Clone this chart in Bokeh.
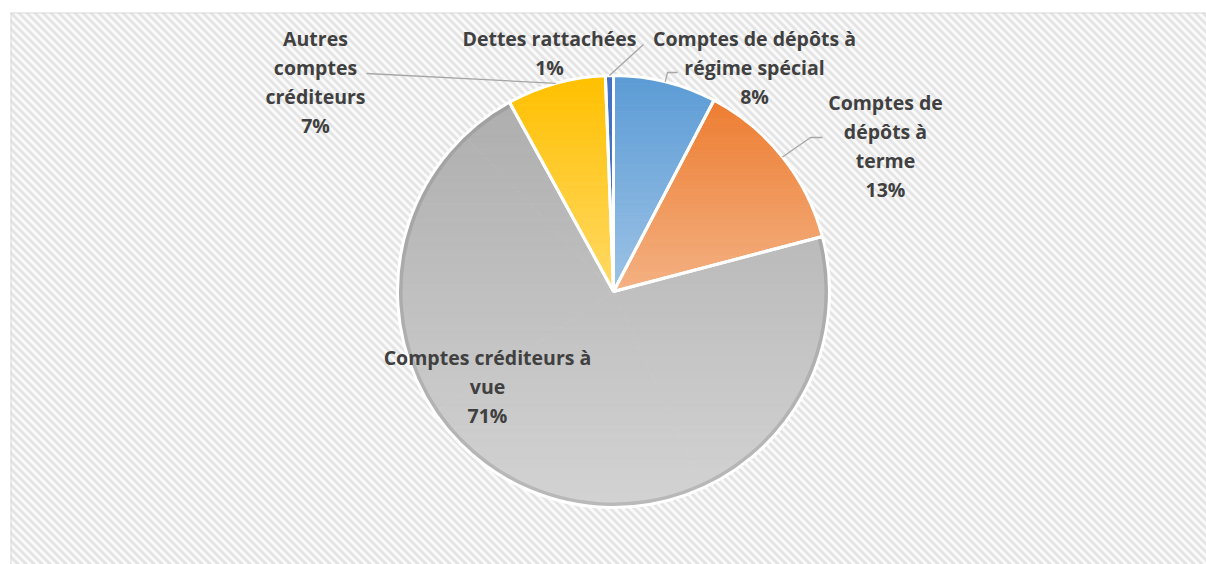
import math
from bokeh.plotting import figure
from bokeh.models import Range1d, ColumnDataSource, Span
from bokeh.core.properties import value
from bokeh.embed import file_html
from bokeh.resources import INLINE

# ---------------- data ----------------
categories = [
    "Comptes de dépôts à régime spécial",
    "Comptes de dépôts à terme",
    "Comptes créditeurs à vue",
    "Autres comptes créditeurs",
    "Dettes rattachées",
]
shares = [7.7, 13.2, 71.1, 7.4, 0.6]
label_lines = [
    ["Comptes de dépôts à", "régime spécial"],
    ["Comptes de", "dépôts à", "terme"],
    ["Comptes créditeurs à", "vue"],
    ["Autres", "comptes", "créditeurs"],
    ["Dettes rattachées"],
]
top_colors = ["#5b9bd5", "#ed7d31", "#aeaeae", "#ffc000", "#4472c4"]
bottom_colors = ["#9dc3e6", "#f4b183", "#d3d3d3", "#ffd966", "#4472c4"]

# ---------------- layout ----------------
W, H = 1196, 552          # frame size in px (data units == px)
CX, CY, R = 603, 273, 216  # pie centre / radius
label_pos = [(744, 526), (875, 462), (477, 207), (305, 526), (539, 526)]
LINE_STEP = 29
leader_pts = [
    [(657, 492), (667, 492)],
    [(800, 427), (812, 427)],
    None,
    [(356, 491)],
    [(633, 520)],
]

p = figure(width=1206, height=564, output_backend="svg", toolbar_location=None,
           x_range=Range1d(0, W), y_range=Range1d(0, H),
           min_border_left=10, min_border_top=12, min_border_right=0, min_border_bottom=0)
p.axis.visible = False
p.grid.visible = False
p.outline_line_color = None
p.background_fill_color = "#fafafa"
p.border_fill_color = "white"

# diagonal stripe pattern of the chart area
STRIPE = 8
sx0, sx1 = [], []
k = -H
while k < W + STRIPE:
    sx0.append(k)
    sx1.append(k + H)
    k += STRIPE
p.segment(x0=sx0, y0=[H] * len(sx0), x1=sx1, y1=[0] * len(sx0),
          line_color="#e4e4e4", line_width=2.8)
p.add_layout(Span(location=0, dimension="height", line_color="#d9d9d9", line_width=2))
p.add_layout(Span(location=H, dimension="width", line_color="#d9d9d9", line_width=2))

total = sum(shares)
cum = [0.0]
for s in shares:
    cum.append(cum[-1] + s)
starts = [math.pi / 2 - 2 * math.pi * c / total for c in cum[:-1]]
ends = [math.pi / 2 - 2 * math.pi * c / total for c in cum[1:]]


def hex2rgb(h):
    h = h.lstrip("#")
    return [int(h[i:i + 2], 16) for i in (0, 2, 4)]


def lerp_col(a, b, t):
    ca, cb = hex2rgb(a), hex2rgb(b)
    return "#%02x%02x%02x" % tuple(int(round(ca[i] + (cb[i] - ca[i]) * t)) for i in range(3))


def clip_half(pts, keep, inter):
    out = []
    n = len(pts)
    for i in range(n):
        cur, prev = pts[i], pts[i - 1]
        if keep(cur):
            if not keep(prev):
                out.append(inter(prev, cur))
            out.append(cur)
        elif keep(prev):
            out.append(inter(prev, cur))
    return out


def ix(yc):
    return lambda a, b: (a[0] + (b[0] - a[0]) * (yc - a[1]) / (b[1] - a[1]), yc)


def clip_band(poly, y0, y1):
    pts = clip_half(poly, lambda q: q[1] >= y0, ix(y0))
    if pts:
        pts = clip_half(pts, lambda q: q[1] <= y1, ix(y1))
    return pts


# gradient-filled slices (horizontal bands, convex sub-wedges)
band_xs, band_ys, band_cols = [], [], []
for i in range(len(shares)):
    a0, a1 = starts[i], ends[i]
    n = max(4, int(abs(a1 - a0) / 0.01))
    arc = [(CX + R * math.cos(a0 + (a1 - a0) * k / n),
            CY + R * math.sin(a0 + (a1 - a0) * k / n)) for k in range(n + 1)]
    ymax = max([q[1] for q in arc] + [CY])
    ymin = min([q[1] for q in arc] + [CY])
    # split into convex pieces of at most ~80 degrees
    step = max(1, int(1.4 / 0.01))
    pieces = []
    j = 0
    while j < n:
        jj = min(n, j + step)
        pieces.append([(CX, CY)] + arc[j:jj + 1])
        j = jj
    nb = 60
    for b in range(nb):
        y1 = ymax - (ymax - ymin) * b / nb
        y0 = ymax - (ymax - ymin) * (b + 1) / nb
        col = lerp_col(top_colors[i], bottom_colors[i], (b + 0.5) / nb)
        for poly in pieces:
            pts = clip_band(poly, y0 - 0.25, y1 + 0.25)
            if len(pts) < 3:
                continue
            band_xs.append([q[0] for q in pts])
            band_ys.append([q[1] for q in pts])
            band_cols.append(col)
p.patches(xs=band_xs, ys=band_ys, fill_color=band_cols, line_color=band_cols, line_width=0.5)

# bevel rim on the large slice
p.annular_wedge(x=CX, y=CY, inner_radius=R - 5, outer_radius=R, start_angle=starts[2], end_angle=ends[2],
                direction="clock", fill_color="#7f7f7f", fill_alpha=0.3, line_color=None)

# white slice borders
src = ColumnDataSource(dict(start=starts, end=ends))
p.wedge(x=CX, y=CY, radius=R, start_angle="start", end_angle="end", direction="clock",
        fill_color=None, line_color="white", line_width=3, source=src)

# leader lines
for i, pts in enumerate(leader_pts):
    if not pts:
        continue
    mid = (starts[i] + ends[i]) / 2
    ax, ay = CX + R * math.cos(mid), CY + R * math.sin(mid)
    xs = [ax] + [q[0] for q in pts]
    ys = [ay] + [q[1] for q in pts]
    p.line(xs, ys, line_color="#a6a6a6", line_width=1.3)

# labels
tx, ty, tt = [], [], []
for i, lines in enumerate(label_lines):
    pct = "%d%%" % int(round(shares[i] / total * 100 + 1e-9))
    allines = lines + [pct]
    x0, y0 = label_pos[i]
    for k, ln in enumerate(allines):
        tx.append(x0)
        ty.append(y0 - k * LINE_STEP)
        tt.append(ln)
p.text(x=tx, y=ty, text=tt, text_align="center", text_baseline="middle",
       text_font=value("Open Sans"), text_font_style="bold", text_font_size="19.5px",
       text_color="#404040")

open("out.html", "w").write(file_html(p, INLINE))
